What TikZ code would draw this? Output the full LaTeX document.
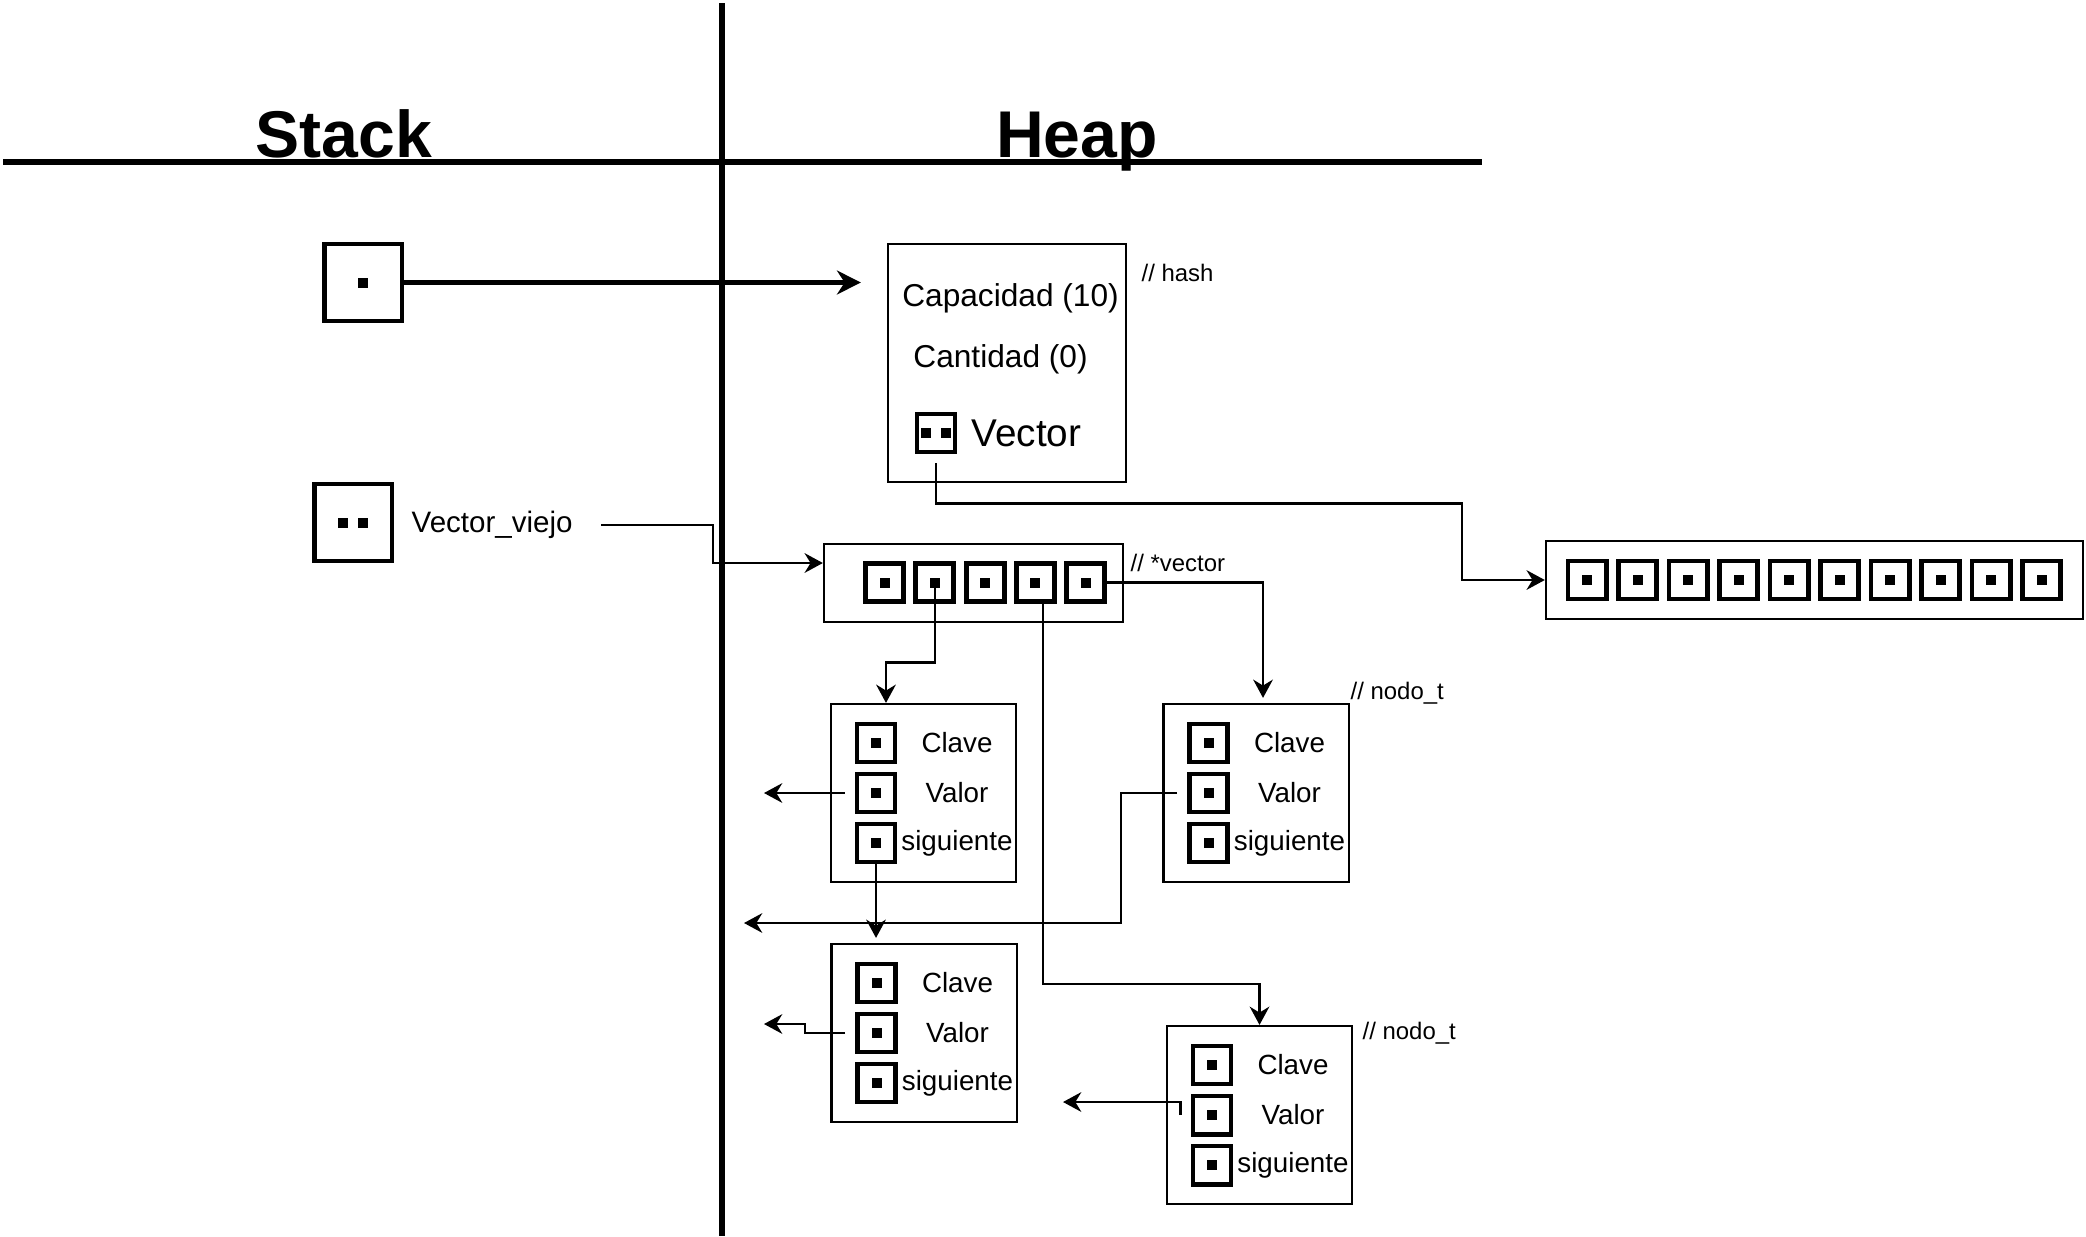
\documentclass[tikz,border=0pt]{standalone}
\usepackage{fontspec}
\setmainfont{Liberation Sans}
\usetikzlibrary{arrows.meta}
\begin{document}
\begin{tikzpicture}[x=0.01cm,y=-0.01cm,
    caja/.style={draw,line width=0.6pt,inner sep=0pt},
    celda/.style={draw,line width=1.4pt,minimum size=0.38cm,inner sep=0pt},
    pila/.style={draw,line width=1.15pt,minimum size=0.77cm,inner sep=0pt},
    ptr/.style={-{Stealth[length=5.2pt,width=5.6pt,inset=1.7pt]},line width=0.6pt},
    ptrgrueso/.style={-{Stealth[length=6.8pt,width=6.8pt,inset=2.2pt]},line width=1.2pt},
    titulo/.style={font=\fontsize{18.8}{22}\selectfont\bfseries,anchor=base,inner sep=0pt},
    coment/.style={font=\fontsize{6.8}{8}\selectfont,anchor=west,inner sep=0pt},
    texto/.style={font=\fontsize{7.9}{9}\selectfont,inner sep=0pt}]
    \def\punto#1{\fill (#1) ++(-5,-5) rectangle ++(10,10);}
    \def\dospuntos#1{\fill (#1) ++(-15,-5) rectangle ++(10,10); \fill (#1) ++(5,-5) rectangle ++(10,10);}
    \useasboundingbox (0,0) rectangle (2086,1236);
    \draw [line width=1.8pt](722,3)--(722,1236);
    \draw [line width=1.8pt](3,162)--(1482,162);
    \node [titulo] (stack) at (344,157) {Stack};
    \node [titulo] (heap) at (1077,157) {Heap};
    \node [pila] (p1) at (363,282.5) {};
    \punto{p1}
    \node [pila] (p2) at (353,522.5) {};
    \dospuntos{p2}
    \node [anchor=west,inner sep=0pt,font=\fontsize{8.4}{10}\selectfont] (viejo) at (411,525) {Vector\_viejo};
    \node [caja,minimum width=2.38cm,minimum height=2.38cm] (hash) at (1007,363) {};
    \node [coment] (hashc) at (1141,273) {// hash};
    \node [inner sep=0pt,font=\fontsize{9}{11}\selectfont] (cap) at (1010.5,298) {Capacidad (10)};
    \node [inner sep=0pt,font=\fontsize{9}{11}\selectfont] (cant) at (1000.5,359) {Cantidad (0)};
    \node [celda] (vec) at (936,433) {};
    \dospuntos{vec}
    \node [anchor=west,inner sep=0pt,font=\fontsize{11}{13}\selectfont] (vectxt) at (971,433) {Vector};
    \draw [ptrgrueso,shorten >=0.26cm](p1.east)--(p1.east -| hash.west);
    \node [caja,minimum width=2.99cm,minimum height=0.78cm] (vector) at (973.5,583) {};
    \foreach \i in {1,...,5}{
        \node [celda] (v\i) at ({884.5+50.3*(\i-1)},582.5) {};
        \punto{v\i}
    }
    \node [coment] (vectorc) at (1130,563) {// *vector};
    \node [caja,minimum width=5.37cm,minimum height=0.78cm] (arreglo) at (1814.5,580) {};
    \foreach \i in {1,...,10}{
        \node [celda] (a\i) at ({1587+50.5*(\i-1)},580) {};
        \punto{a\i}
    }
    \foreach \n/\x/\y in {1/923.5/793,2/1256/793,3/1259.5/1115,4/924/1033}{
        \node [caja,minimum width=1.85cm,minimum height=1.78cm] (nodo\n) at (\x,\y) {};
        \foreach \campo/\etiqueta/\dy in {clave/Clave/-50,valor/Valor/0,sig/siguiente/50}{
            \node [celda] (nodo\n-\campo) at (\x-47.5,\y+\dy) {};
            \punto{nodo\n-\campo}
            \node [texto] (nodo\n-\campo-txt) at (\x+33.5,\y+\dy) {\etiqueta};
        }
    }
    \node [coment] (nodoc2) at (1350,693) {// nodo\_t};
    \node [coment] (nodoc3) at (1362,1033) {// nodo\_t};
    \coordinate (codo) at (713,563);
    \coordinate (libre1) at (764,793);
    \coordinate (libre2) at (744,923);
    \coordinate (libre3) at (1063,1102);
    \coordinate (libre4) at (764,1024);
    \draw [ptr]([yshift=-0.09cm]vec.south)--++(0,40)-|(1462,580)--(arreglo.west);
    \draw [ptr]([xshift=0.28cm]viejo.east)-|(codo)--(codo -| vector.west);
    \draw [ptr](v2.center)--++(0,80)-|([xshift=-0.375cm]nodo1.north);
    \draw [ptr,shorten >=0.05cm](v5.east)-|([xshift=0.07cm]nodo2.north);
    \draw [ptr]([xshift=0.08cm]v4.south)--++(0,380)-|(nodo3.north);
    \draw [ptr]([xshift=-0.1cm]nodo1-valor.west)--(libre1);
    \draw [ptr,shorten >=0.05cm](nodo1-sig.south)--(nodo1-sig.south |- nodo4.north);
    \draw [ptr]([xshift=-0.1cm]nodo2-valor.west)--++(-56,0)|-(libre2);
    \draw [ptr]([xshift=-0.1cm]nodo4-valor.west)--++(-40,0)|-(libre4);
    \draw [ptr]([xshift=-0.1cm]nodo3-valor.west)|-(libre3);
\end{tikzpicture}
\end{document}
